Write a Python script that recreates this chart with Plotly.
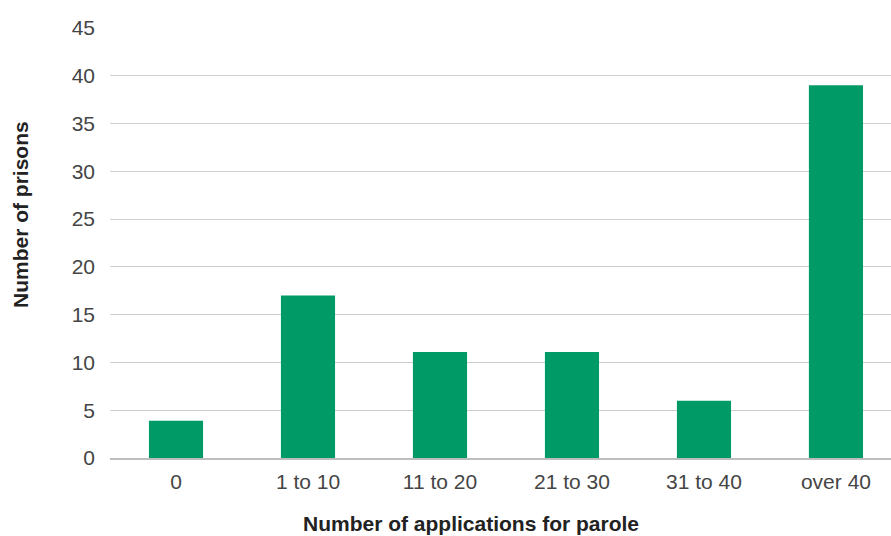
import plotly.graph_objects as go

categories = ["0", "1 to 10", "11 to 20", "21 to 30", "31 to 40", "over 40"]
prisons = [3.9, 17, 11.1, 11.1, 6, 39]
y_ticks = [0, 5, 10, 15, 20, 25, 30, 35, 40, 45]

fig = go.Figure(go.Bar(x=categories, y=prisons, marker=dict(color="#009A66", line=dict(width=0)),
                       width=0.41))

fig.update_layout(
    width=891, height=536,
    margin=dict(l=110, r=0, t=28, b=78),
    paper_bgcolor="white", plot_bgcolor="white",
    showlegend=False,
    font=dict(family="Liberation Sans, Arial, sans-serif", size=21, color="#454545"),
    xaxis=dict(showgrid=False, showline=True, linecolor="#bdbdbd", linewidth=1.5,
               range=[-0.5, 5.417], ticks="", ticklabelstandoff=4,
               tickfont=dict(size=21, color="#454545")),
    yaxis=dict(range=[0, 45], tickvals=y_ticks, showgrid=True, gridcolor="#cfcfcf", gridwidth=1.2,
               zeroline=False, ticks="", ticklabelstandoff=14,
               tickfont=dict(size=21, color="#454545")),
    annotations=[
        dict(text="<b>Number of applications for parole</b>", xref="paper", yref="paper",
             x=(471 - 110) / 781, y=-(523 - 458) / 430, xanchor="center", yanchor="middle",
             showarrow=False, font=dict(size=21, color="#222")),
        dict(text="<b>Number of prisons</b>", xref="paper", yref="paper",
             x=-(110 - 20) / 781, y=(458 - 215) / 430, xanchor="center", yanchor="middle",
             textangle=-90, showarrow=False, font=dict(size=21, color="#222")),
    ],
)

fig.write_html("out.html")
